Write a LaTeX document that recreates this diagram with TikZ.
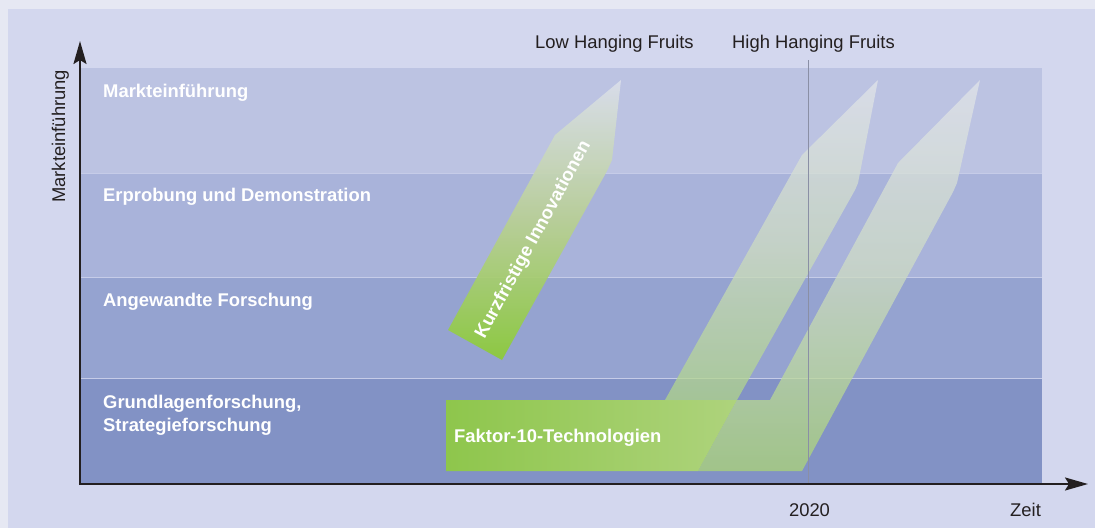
\documentclass[tikz,border=0pt]{standalone}
\usepackage{fontspec}
\setmainfont{Liberation Sans}
\usetikzlibrary{arrows.meta}
\definecolor{bgmain}{HTML}{D3D7EE}
\definecolor{bgedge}{HTML}{E6E8F3}
\definecolor{bandA}{HTML}{BCC3E2}
\definecolor{bandB}{HTML}{A9B3DA}
\definecolor{bandC}{HTML}{95A3D0}
\definecolor{bandD}{HTML}{8292C5}
\definecolor{sepcol}{HTML}{C6CCE8}
\definecolor{axiscol}{HTML}{231F20}
\definecolor{yearline}{HTML}{8A8FA5}
\definecolor{greenL}{HTML}{8EC64C}
\definecolor{greenR}{HTML}{AED37C}
\definecolor{paleTop}{HTML}{E2E5EA}
\definecolor{paleMid}{HTML}{CEDCC2}
\definecolor{paleBot}{HTML}{B0D589}
\definecolor{paleBotB}{HTML}{ACD676}
\definecolor{kiBot}{HTML}{8CCC36}
\definecolor{kiMid}{HTML}{B9D094}
\definecolor{kiTop}{HTML}{DBDFEB}
\begin{document}
\begin{tikzpicture}[x=1pt,y=-1pt,
  basefont/.style={font=\fontsize{18.4}{22.5}\selectfont},
  lbl/.style={anchor=base west, inner sep=0pt, text=white, font=\bfseries\fontsize{18.4}{22.5}\selectfont},
  txt/.style={anchor=base west, inner sep=0pt, text=axiscol, font=\fontsize{18.4}{22.5}\selectfont},
  axisline/.style={line width=2.2pt, draw=axiscol, -{Stealth[length=23pt,width=13pt,inset=4pt]}},
  sepline/.style={draw=sepcol, line width=0.9pt},
  palearrow/.style={fill opacity=0.75, top color=paleTop, bottom color=paleBot, middle color=paleMid},
]
\useasboundingbox (0,0) rectangle (1095,528);
% background
\fill[bgedge] (0,0) rectangle (1095,528);
\fill[bgmain] (8,9) rectangle (1095,528);
% bands
\fill[bandA] (80,68) rectangle (1042,173);
\fill[bandB] (80,173) rectangle (1042,277);
\fill[bandC] (80,277) rectangle (1042,378);
\fill[bandD] (80,378) rectangle (1042,484);
\draw[sepline] (80,173) -- (1042,173);
\draw[sepline] (80,277) -- (1042,277);
\draw[sepline] (80,378) -- (1042,378);
% Faktor-10 bar
\shade[left color=greenL, right color=greenR] (446,400) -- (737,400) -- (698,471) -- (446,471) -- cycle;
% arrow A
\shade[palearrow] (665,400) -- (802,155) -- (878,80) -- (858,183) -- (855,190) -- (737,400) -- cycle;
% arrow B
\shade[palearrow, bottom color=paleBotB, middle color=paleMid] (698,471) -- (737,400) -- (770,400) -- (898,163) -- (980,80) -- (957,183) -- (953,192) -- (802,471) -- cycle;
% Kurzfristige arrow
\shade[fill opacity=0.92, top color=kiTop, bottom color=kiBot, middle color=kiMid] (448,330) -- (555,135) -- (621,80) -- (612,160) -- (607,171) -- (502,360) -- cycle;
\node[lbl, anchor=center, rotate=61.4] (ki) at (533.5,240) {Kurzfristige Innovationen};
\node[lbl] (f10) at (454,442) {Faktor-10-Technologien};
% year line
\coordinate (ytop) at (808,60);
\coordinate (ybot) at (808,484);
\draw[yearline, line width=0.8pt] (ytop) -- (ybot);
% axes
\coordinate (oy) at (80,485.1);
\coordinate (ox) at (78.9,484);
\coordinate (ytip) at (80,41);
\coordinate (xtip) at (1088,484);
\draw[axisline] (oy) -- (ytip);
\draw[axisline] (ox) -- (xtip);
% labels
\node[lbl] (l1) at (103,97) {Markteinführung};
\node[lbl] (l2) at (103,201.5) {Erprobung und Demonstration};
\node[lbl] (l3) at (103,306.5) {Angewandte Forschung};
\node[lbl] (l4a) at (103,408.8) {Grundlagenforschung,};
\node[lbl] (l4b) at (103,431.5) {Strategieforschung};
\node[txt] (low) at (535,48.5) {Low Hanging Fruits};
\node[txt] (high) at (732,48.5) {High Hanging Fruits};
\node[txt, anchor=base] (yr) at (809.5,516) {2020};
\node[txt] (zeit) at (1010,516) {Zeit};
\node[txt, rotate=90] (ylab) at (65,203) {Markteinführung};
\end{tikzpicture}
\end{document}
